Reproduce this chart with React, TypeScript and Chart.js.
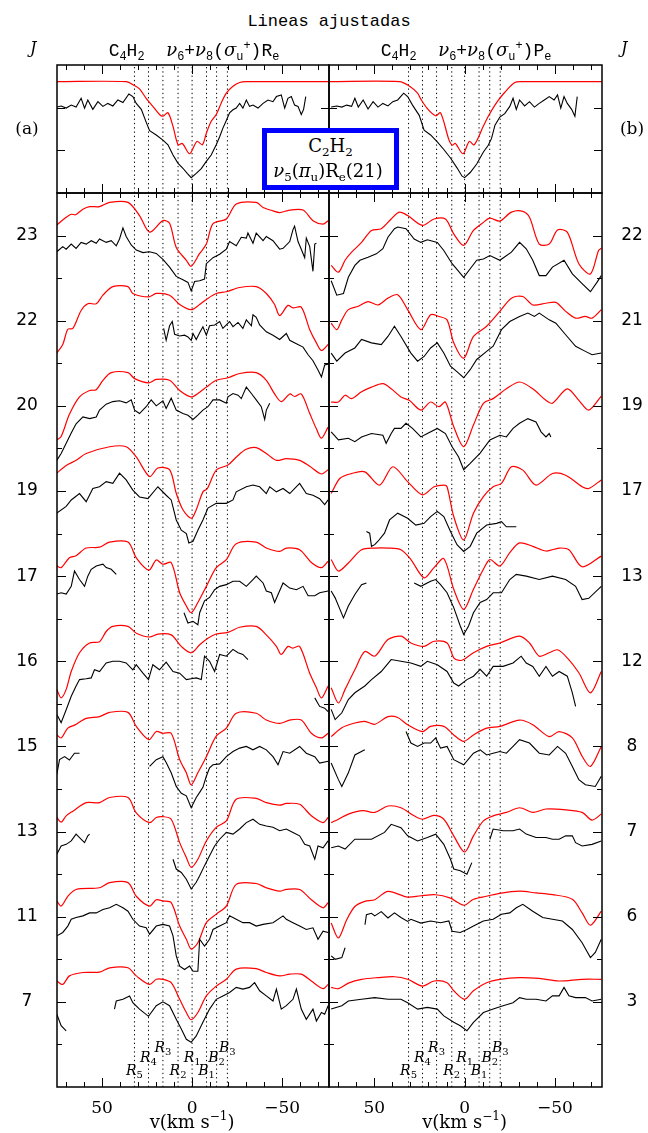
import React, { useEffect, useRef } from "react";
import { Chart, registerables } from "chart.js";

Chart.register(...registerables);

type Pt = [number, number | null];

// ---------- axis / annotation data ----------
const X_MIN = -76;
const X_MAX = 75;
const X_TICKS = [-70, -60, -50, -40, -30, -20, -10, 0, 10, 20, 30, 40, 50, 60, 70];
const X_LABELS = [50, 0, -50];
const BOTTOM_Y_TICKS = [5, 10, 15, 20, 25, 30, 35, 40, 45, 50, 55, 60, 65, 70, 75, 80, 85, 90, 95, 100];
const BOTTOM_Y_MAJOR = [10, 20, 30, 40, 50, 60, 70, 80, 90, 100];
const TOP_Y_TICKS = [5, 10];

const LINES_LEFT = [32, 24.2, 16.2, 7.8, 0, -8, -13.6, -19.6];
const LINES_RIGHT = [31, 23.3, 15.5, 7.1, 0, -8, -13.9, -19.7];
const LINE_NAMES = [["R", "5"], ["R", "4"], ["R", "3"], ["R", "2"], ["R", "1"], ["B", "1"], ["B", "2"], ["B", "3"]];
const NAME_LEVELS = [1.4, 2.95, 4.15, 1.4, 2.95, 1.4, 2.95, 4.15];

const LEFT_J = ["23", "22", "20", "19", "17", "16", "15", "13", "11", "7"];
const RIGHT_J = ["22", "21", "19", "17", "13", "12", "8", "7", "6", "3"];

// ---------- top panels (C2H2 nu5 Re(21)) ----------
const TOP_A_FIT: Pt[] = [[75, 13.05], [36.6, 13.05], [32, 12.6], [29.2, 12.2], [25.5, 11.1], [21.8, 10.15], [18.1, 9.2], [16.2, 9.0], [13.4, 9.4], [10.6, 7.8], [7.8, 5.65], [5.4, 5.8], [1.4, 4.6], [-2.7, 6.05], [-5.7, 5.65], [-7.9, 7.0], [-10.6, 8.4], [-13.4, 9.2], [-16.2, 10.55], [-19, 11.7], [-22.7, 12.5], [-26.4, 12.95], [-30, 13.05], [-76, 13.05]];
const TOP_A_OBS: Pt[] = [[75.1, 10.07], [72.7, 10.2], [69.9, 9.95], [67.1, 10.3], [64.4, 10.07], [61.6, 11.1], [59.7, 9.95], [57.9, 10.9], [55.1, 9.8], [52.3, 10.7], [49.5, 10.15], [46.8, 10.5], [44.0, 10.2], [41.2, 10.9], [38.4, 10.6], [35.1, 11.6], [32.9, 11.3], [31.0, 10.5], [28.2, 9.8], [25.5, 8.3], [23.6, 7.3], [19.9, 6.8], [16.2, 6.2], [13.4, 5.65], [10.6, 4.45], [7.9, 3.5], [5.1, 2.9], [2.7, 2.3], [0.5, 1.8], [-2.3, 2.3], [-5.1, 2.85], [-7.9, 3.7], [-10.6, 4.45], [-13.4, 5.65], [-15.3, 6.6], [-17.1, 7.6], [-19.0, 8.5], [-20.8, 9.4], [-22.7, 9.75], [-24.5, 9.95], [-26.4, 10.5], [-28.2, 9.95], [-30.1, 10.9], [-31.9, 10.15], [-33.8, 10.3], [-36.6, 9.95], [-39.4, 10.5], [-42.1, 10.9], [-44.9, 10.7], [-46.8, 11.3], [-49.5, 11.5], [-51.4, 9.95], [-53.2, 11.1], [-55.1, 11.3], [-56.9, 10.3], [-58.8, 10.15], [-60.6, 9.2], [-61.9, 9.8], [-63.1, 11.3]];
const TOP_B_FIT: Pt[] = [[75, 13.05], [36.1, 13.05], [30.6, 12.55], [26, 11.7], [24.2, 11.0], [20.6, 9.9], [16, 9.05], [13.3, 9.4], [8.7, 6.25], [6.9, 5.6], [5.1, 5.8], [0.9, 4.6], [-2.6, 6.05], [-5.3, 5.65], [-10.4, 7.85], [-13.1, 9.0], [-17.7, 10.6], [-22, 11.75], [-27.7, 12.95], [-32, 13.05], [-76, 13.05]];
const TOP_B_OBS: Pt[] = [[73.8, 10.07], [70.7, 10.2], [67.9, 10.07], [65.2, 10.3], [62.5, 10.15], [60.7, 11.1], [58.8, 10.07], [56.1, 10.9], [53.4, 9.85], [50.6, 10.7], [47.9, 10.07], [45.2, 10.5], [42.4, 10.2], [39.7, 10.7], [37.0, 10.9], [33.7, 11.7], [31.5, 11.3], [28.8, 10.3], [25.1, 9.1], [22.4, 7.35], [18.8, 6.8], [15.1, 6.0], [11.5, 5.1], [7.8, 4.1], [4.2, 2.95], [1.5, 2.0], [0, 1.8], [-3.1, 2.4], [-6.7, 3.4], [-10.4, 4.8], [-13.1, 5.6], [-14.9, 6.4], [-16.8, 7.95], [-19.5, 8.9], [-22.2, 9.3], [-25.0, 10.15], [-26.8, 11.1], [-28.6, 9.8], [-30.4, 10.9], [-33.2, 10.2], [-35.9, 10.7], [-38.6, 10.07], [-41.3, 10.5], [-44.1, 10.9], [-46.8, 11.3], [-49.5, 10.9], [-51.4, 11.5], [-53.2, 9.95], [-55.0, 11.3], [-56.8, 10.5], [-59.2, 9.8], [-61.0, 9.0], [-62.3, 11.3]];

// ---------- left column: C4H2 Re ----------
const L23_FIT: Pt[] = [[75.1, 1.25], [69.9, 2.15], [67.1, 2.5], [64.7, 2.45], [60.6, 3.1], [56.9, 3.4], [51.4, 3.4], [45.8, 3.9], [35.6, 3.9], [29.2, 2.35], [23.6, 0.4], [16.2, 1.75], [12.5, 1.45], [8.8, -1.4], [3.2, -2.9], [0.5, -3.6], [-4.2, -2.1], [-7.9, -1.0], [-11.6, 1.4], [-19.0, 1.95], [-24.5, 3.7], [-35.6, 3.9], [-39.4, 3.3], [-44.9, 2.9], [-48.6, 2.7], [-54.2, 3.0], [-61.6, 3.0], [-67.1, 1.75], [-72.7, 1.35], [-75.5, 1.75]];
const L23_OBS: Pt[] = [[75.1, -1.9], [71.8, -1.3], [69.9, -1.6], [67.1, -1.0], [64.4, -1.5], [61.6, -0.8], [58.8, -1.0], [56.0, -0.6], [53.2, -0.9], [51.4, -0.4], [47.7, -0.8], [44.9, -0.6], [42.1, -1.2], [40.3, -0.4], [38.4, 0.9], [36.6, -0.1], [33.8, -1.1], [31.0, -1.7], [27.3, -2.0], [23.6, -1.9], [19.9, -2.1], [16.2, -2.8], [12.5, -3.7], [8.8, -4.8], [5.1, -5.2], [2.3, -5.5], [0.5, -6.5], [-1.4, -5.4], [-4.2, -5.3], [-6.9, -5.1], [-7.9, -3.3], [-11.6, -2.6], [-15.3, -2.2], [-19.0, -1.6], [-20.8, -0.7], [-24.5, -1.2], [-27.3, -0.2], [-30.1, -0.3], [-31.0, 0.3], [-33.8, -0.9], [-35.6, 0.3], [-39.4, -0.6], [-41.2, -0.1], [-44.9, -0.6], [-48.6, -1.6], [-50.5, -1.5], [-54.2, -0.7], [-56.0, 0.7], [-56.9, 1.1], [-58.8, -0.7], [-60.6, -1.6], [-62.5, -2.6], [-63.4, -0.3], [-65.3, -1.3], [-67.1, -4.2], [-68.1, -1.0], [-69.0, -0.9]];
const L22_FIT: Pt[] = [[75.1, -3.8], [71.8, -2.8], [69.0, -1.0], [66.2, -0.9], [61.6, 1.2], [57.9, 2.0], [53.2, 2.0], [49.5, 3.0], [44.0, 4.0], [35.6, 4.0], [32.9, 3.2], [24.2, 2.8], [19.9, 3.2], [12.5, 3.0], [6.9, 1.9], [0.5, 1.3], [-4.2, 1.9], [-7.9, 2.5], [-13.4, 3.2], [-19.0, 3.4], [-26.4, 3.9], [-35.6, 4.0], [-41.2, 3.2], [-45.8, 1.9], [-48.6, 0.6], [-53.2, 1.8], [-56.0, 1.5], [-60.6, 1.6], [-65.3, -1.05], [-69.0, -2.6], [-71.8, -3.5], [-75.5, -2.8]];
const L22_OBS: Pt[] = [[15.8, -0.9], [14.4, -2.3], [12.5, -0.6], [11.0, -0.1], [9.7, -1.6], [6.9, -1.8], [4.2, -1.7], [2.3, -1.9], [0.5, -2.3], [-0.5, -1.5], [-2.3, -2.2], [-4.2, -1.4], [-6.0, -0.7], [-7.9, -1.7], [-9.7, -0.6], [-12.5, -0.5], [-15.3, -0.1], [-17.1, -0.9], [-20.8, -0.1], [-22.7, -0.7], [-25.5, -0.2], [-28.2, -0.9], [-30.1, 0.1], [-32.9, -0.6], [-33.8, 0.7], [-35.6, 0.4], [-37.5, -0.5], [-41.2, -1.3], [-44.9, -1.7], [-48.6, -2.2], [-52.3, -1.5], [-54.2, -2.3], [-57.9, -2.7], [-61.6, -3.1], [-64.4, -4.0], [-67.1, -4.7], [-69.9, -5.8], [-71.8, -6.6], [-73.6, -5.2], [-75.5, -5.1]];
const L20_FIT: Pt[] = [[75.1, -4.0], [72.7, -3.6], [68.1, -1.0], [62.5, 1.05], [56.9, 1.8], [53.2, 1.9], [49.5, 3.0], [44.9, 3.9], [35.6, 3.9], [31.9, 3.2], [24.2, 2.7], [19.9, 3.1], [12.5, 3.0], [6.9, 1.8], [0.5, 1.05], [-4.2, 1.6], [-7.9, 2.2], [-13.4, 3.0], [-19.9, 3.3], [-26.4, 3.8], [-35.6, 3.9], [-41.2, 3.0], [-45.8, 1.4], [-49.5, 0.5], [-54.2, 1.4], [-56.9, 1.1], [-60.6, 1.4], [-65.3, -0.9], [-69.0, -2.7], [-71.8, -3.8], [-75.5, -2.5]];
const L20_OBS: Pt[] = [[75.1, -6.4], [72.7, -5.6], [69.9, -4.4], [67.1, -3.2], [64.4, -2.1], [60.6, -1.3], [56.9, -1.5], [53.2, -1.3], [51.4, -0.5], [47.7, 0.2], [44.0, 0.5], [40.3, 0.6], [36.6, 0.35], [33.8, 0.7], [31.9, -0.5], [29.2, -0.9], [25.5, -0.1], [22.7, 0.7], [19.9, 0.0], [16.2, 0.6], [14.4, -0.3], [11.6, 0.9], [8.8, -0.5], [5.1, -0.9], [2.3, -1.1], [-0.5, -1.6], [-3.2, -1.1], [-6.0, -0.5], [-8.8, -0.1], [-11.6, 0.7], [-15.3, 0.7], [-19.0, 0.3], [-19.9, 1.05], [-22.7, 1.45], [-25.5, 1.25], [-27.3, 0.85], [-30.1, 2.2], [-32.9, 1.45], [-35.6, 0.7], [-38.4, -0.1], [-40.3, -1.6], [-41.2, -0.5], [-43.1, 0.3]];
const L19_FIT: Pt[] = [[75.1, 2.1], [69.9, 3.0], [64.4, 3.6], [58.8, 4.4], [45.8, 5.2], [36.6, 5.2], [31.0, 4.0], [23.6, 1.7], [19.0, 2.7], [12.5, 2.5], [8.8, -0.27], [5.1, -2.2], [0.45, -3.2], [-2.3, -2.2], [-6.0, -0.1], [-8.5, 0.3], [-13.4, 2.46], [-19.9, 3.05], [-24.6, 4.0], [-30.0, 4.9], [-35.6, 5.1], [-41.2, 4.4], [-46.8, 3.6], [-52.3, 3.8], [-59.7, 3.6], [-65.3, 2.9], [-71.8, 2.0], [-75.5, 2.5]];
const L19_OBS: Pt[] = [[75.1, -2.6], [69.9, -1.8], [67.1, -1.05], [62.5, -0.3], [58.8, -1.25], [55.1, 0.3], [51.4, 0.5], [47.7, 1.1], [44.0, 0.9], [40.3, 2.1], [36.6, 1.3], [32.9, 0.1], [29.2, -0.7], [24.5, -0.9], [19.0, 0.5], [14.4, -0.5], [11.6, -1.05], [8.8, -3.4], [6.0, -4.6], [3.2, -5.0], [1.8, -6.1], [-0.5, -5.9], [-3.2, -4.6], [-6.0, -3.4], [-8.8, -2.0], [-13.4, -1.45], [-19.0, -1.45], [-22.7, -1.05], [-24.5, -0.1], [-30.1, 0.5], [-33.8, 0.7], [-37.5, 0.5], [-41.2, -0.3], [-43.1, 0.5], [-46.8, -0.1], [-50.5, 0.3], [-54.2, -0.3], [-59.7, 0.9], [-63.4, -0.3], [-67.1, -0.5], [-70.8, -0.9], [-73.6, -1.6], [-75.5, -1.05]];
const L17_FIT: Pt[] = [[75.1, 1.2], [72.7, 1.0], [68.1, 2.15], [64.4, 2.4], [58.8, 3.3], [51.4, 3.4], [45.8, 4.0], [35.6, 4.0], [31.0, 2.15], [24.0, 0.7], [19.9, 1.9], [16.2, 1.4], [11.6, 1.6], [6.9, -1.95], [3.2, -3.5], [0.5, -4.3], [-3.2, -3.1], [-7.9, -1.2], [-13.4, 1.0], [-19.0, 1.95], [-24.5, 3.8], [-35.6, 4.0], [-41.2, 3.3], [-48.6, 2.9], [-52.3, 3.3], [-59.7, 3.1], [-66.2, 1.6], [-71.8, 1.0], [-75.5, 1.75]];
const L17_OBS: Pt[] = [[75.1, -2.1], [72.7, -1.95], [69.9, -2.1], [67.1, -1.2], [65.3, 0.6], [62.5, -0.4], [59.7, -1.2], [57.9, 0.0], [56.0, 0.8], [53.2, 1.2], [49.5, 1.4], [47.7, 1.0], [44.9, 0.8], [42.1, 0.2], [20, null], [4.5, -4.3], [2.3, -5.5], [-0.5, -5.3], [-3.2, -5.7], [-4.2, -4.3], [-6.9, -2.9], [-9.7, -2.5], [-12.5, -1.6], [-15.3, -1.2], [-19.0, -1.0], [-22.7, -0.6], [-26.4, -0.6], [-30.1, -1.2], [-33.8, -0.4], [-35.6, 0.0], [-39.4, -0.8], [-41.2, -1.75], [-44.0, -1.95], [-45.8, -3.1], [-47.7, -2.15], [-50.5, -0.8], [-54.2, -1.4], [-57.9, -1.6], [-61.6, -1.2], [-64.4, -2.3], [-68.1, -2.3], [-70.8, -1.95], [-75.5, -1.75]];
const L16_FIT: Pt[] = [[75.1, -3.3], [72.7, -4.3], [69.9, -3.3], [67.1, -1.2], [62.5, 1.0], [56.9, 2.15], [51.4, 2.3], [47.7, 3.5], [44.0, 4.1], [35.6, 4.1], [31.0, 3.3], [23.6, 2.85], [19.0, 3.2], [11.6, 3.1], [6.0, 1.75], [0.5, 1.0], [-4.2, 1.95], [-8.8, 2.7], [-13.4, 3.2], [-19.9, 3.4], [-26.4, 4.0], [-35.6, 4.1], [-41.2, 3.1], [-46.8, 1.75], [-49.5, 0.8], [-53.2, 1.75], [-56.0, 1.55], [-59.7, 1.75], [-65.3, -1.4], [-69.0, -3.1], [-71.8, -4.3], [-75.5, -2.9]];
const L16_OBS: Pt[] = [[75.1, -6.25], [72.7, -7.2], [69.9, -5.7], [67.1, -4.1], [64.4, -2.9], [62.5, -2.15], [58.8, -2.05], [56.0, -1.95], [54.2, -1.0], [51.4, -1.2], [47.7, -0.2], [44.0, 0.0], [40.3, 0.0], [36.6, -0.2], [32.9, -1.0], [31.0, -0.4], [27.3, -1.4], [24.2, -2.15], [21.8, -0.4], [18.1, -1.0], [14.4, -0.1], [10.6, -1.2], [6.9, -1.4], [3.2, -2.15], [0.5, -2.05], [-2.3, -1.95], [-5.1, -2.15], [-6.9, 0.6], [-9.7, 0.0], [-12.5, -1.2], [-15.3, 0.8], [-19.0, 0.6], [-22.7, 1.4], [-25.5, 1.0], [-28.2, 0.8], [-31.0, 0.2], [-50, null], [-68.1, -4.3], [-70.8, -5.3], [-73.6, -5.5], [-75.5, -5.9]];
const L15_FIT: Pt[] = [[75.1, 1.35], [72.7, 1.0], [69.0, 2.15], [65.3, 2.5], [58.8, 3.3], [51.4, 3.5], [45.8, 4.0], [35.6, 4.0], [31.0, 2.35], [24.0, 0.8], [19.9, 1.75], [16.2, 1.55], [11.6, 1.55], [6.9, -1.55], [3.2, -3.1], [0.5, -4.5], [-3.2, -3.1], [-7.9, -1.2], [-13.4, 1.2], [-19.0, 2.15], [-24.5, 3.9], [-35.6, 3.9], [-41.2, 3.1], [-48.6, 2.7], [-54.2, 3.1], [-60.6, 3.1], [-66.2, 1.55], [-71.8, 1.0], [-75.5, 1.55]];
const L15_OBS: Pt[] = [[75.1, -3.3], [73.6, -1.55], [70.8, -1.2], [68.1, -1.6], [65.3, -0.8], [62.5, -0.8], [40, null], [23.6, -2.35], [19.9, -1.55], [16.2, -1.2], [14.4, -1.9], [11.6, -3.1], [8.8, -4.7], [6.0, -5.5], [3.2, -5.8], [0.5, -7.2], [-2.3, -6.0], [-4.2, -5.4], [-6.0, -4.8], [-7.9, -3.5], [-9.7, -2.5], [-11.6, -2.15], [-15.3, -2.05], [-19.0, -1.2], [-22.7, -0.6], [-26.4, -0.2], [-30.1, 0.0], [-33.8, -0.4], [-37.5, 0.0], [-41.2, -0.4], [-44.9, -1.2], [-47.7, -2.15], [-50.5, -0.6], [-54.2, -0.8], [-59.7, 0.0], [-63.4, -0.8], [-68.1, -1.2], [-70.8, -1.95], [-75.5, -1.75]];
const L13_FIT: Pt[] = [[75.1, 1.65], [72.7, 1.1], [69.9, 1.85], [66.2, 2.4], [58.8, 3.4], [51.4, 3.4], [45.8, 4.0], [35.6, 4.0], [31.0, 2.2], [23.6, 1.05], [19.9, 1.65], [16.2, 1.75], [11.6, 1.45], [6.9, -1.3], [3.2, -3.05], [0.5, -4.2], [-3.2, -3.25], [-7.9, -1.1], [-13.4, 0.5], [-19.0, 1.25], [-24.5, 3.8], [-35.6, 3.9], [-41.2, 3.4], [-48.6, 3.1], [-52.3, 3.3], [-59.7, 3.2], [-66.2, 1.85], [-72.7, 1.05], [-75.5, 1.65]];
const L13_OBS: Pt[] = [[75.1, -2.65], [72.7, -1.7], [69.9, -1.5], [67.1, -1.1], [64.4, -0.3], [62.5, -0.7], [59.7, -1.3], [57.9, -0.5], [56.9, -0.3], [30, null], [10.6, -3.25], [8.8, -4.4], [6.0, -4.8], [3.2, -5.6], [0.5, -6.75], [-2.3, -5.95], [-4.2, -5.2], [-6.9, -4.0], [-9.7, -2.85], [-12.5, -1.7], [-15.3, -0.9], [-19.0, -0.1], [-22.7, -0.3], [-26.4, 0.3], [-30.1, 1.05], [-33.8, 1.45], [-37.5, 0.85], [-41.2, 0.65], [-44.9, 0.5], [-48.6, 0.1], [-52.3, 0.3], [-56.0, -0.1], [-59.7, -0.5], [-62.5, -1.5], [-65.3, -1.7], [-68.1, -3.25], [-69.9, -1.7], [-72.7, -1.9], [-75.5, -1.1]];
const L11_FIT: Pt[] = [[75.1, 1.85], [72.7, 1.25], [69.0, 2.4], [64.4, 3.2], [51.4, 3.4], [45.8, 4.0], [35.6, 4.0], [31.0, 2.4], [23.6, 1.25], [19.9, 2.0], [16.2, 1.85], [11.6, 1.65], [6.9, -1.1], [3.2, -2.65], [0.5, -3.8], [-3.2, -3.05], [-7.9, -0.7], [-13.4, 0.3], [-19.0, 1.25], [-24.5, 3.8], [-35.6, 3.9], [-41.2, 3.4], [-48.6, 3.0], [-52.3, 3.2], [-59.7, 3.2], [-66.2, 2.0], [-72.7, 1.05], [-75.5, 1.65]];
const L11_OBS: Pt[] = [[75.1, -2.25], [71.8, -1.85], [69.0, -1.1], [67.1, -0.3], [64.4, -0.1], [60.6, 0.1], [56.9, 0.45], [53.2, 0.45], [49.5, 0.85], [45.8, 1.05], [42.1, 1.45], [38.4, 1.05], [35.6, 0.65], [32.9, -0.3], [29.2, -1.1], [25.5, -1.3], [23.6, -2.05], [19.9, -1.1], [16.2, -0.9], [12.5, -1.1], [10.6, -2.25], [8.8, -4.6], [6.9, -5.8], [4.2, -6.2], [1.4, -5.8], [-0.5, -6.4], [-3.2, -6.4], [-4.2, -2.65], [-6.9, -3.45], [-9.7, -2.65], [-11.6, -1.5], [-15.3, -1.1], [-19.0, -0.7], [-20.8, 0.1], [-24.5, -0.3], [-28.2, -0.7], [-31.9, -0.7], [-35.6, -1.1], [-39.4, -0.9], [-44.9, -0.7], [-50.5, 0.1], [-52.3, -0.3], [-56.0, -0.7], [-59.7, -1.1], [-63.4, -1.5], [-67.1, -1.3], [-69.9, -2.65], [-72.7, -1.7], [-75.5, -1.85]];
const L7_FIT: Pt[] = [[75.1, 2.45], [71.8, 2.05], [68.1, 3.05], [60.6, 3.45], [51.4, 3.5], [45.8, 4.0], [35.6, 4.0], [31.0, 3.05], [23.6, 2.05], [19.9, 2.65], [16.2, 2.65], [11.6, 2.25], [6.9, 0.3], [3.2, -1.25], [0.5, -2.1], [-3.2, -1.25], [-7.9, 0.7], [-13.4, 1.85], [-19.0, 2.65], [-24.5, 3.85], [-35.6, 3.9], [-41.2, 3.45], [-48.6, 3.05], [-54.2, 3.25], [-60.6, 3.25], [-66.2, 2.45], [-72.7, 1.55], [-75.5, 2.05]];
const L7_OBS: Pt[] = [[75.1, -1.45], [72.7, -2.8], [69.9, -3.4], [55, null], [43.1, -0.85], [42.1, 0.1], [38.4, 0.3], [34.7, 0.7], [32.9, -0.1], [29.2, -0.85], [24.2, -1.7], [19.9, -0.45], [16.2, 0.0], [12.5, -0.45], [8.8, -2.05], [6.0, -3.2], [3.2, -4.4], [0.5, -4.75], [-2.3, -4.0], [-6.0, -2.4], [-9.7, -0.85], [-13.4, 0.3], [-17.1, 0.7], [-20.8, 1.1], [-24.5, 1.7], [-28.2, 1.5], [-31.9, 1.7], [-34.7, 2.25], [-37.5, 1.3], [-41.2, 0.7], [-44.9, 0.1], [-46.8, 1.5], [-49.5, -0.85], [-52.3, -0.45], [-56.0, 0.3], [-57.9, 1.5], [-60.6, -0.85], [-63.4, -2.05], [-67.1, -0.85], [-69.0, -2.25], [-71.8, -1.25], [-73.6, -1.45], [-75.5, -0.45]];

// ---------- right column: C4H2 Pe ----------
const R22_FIT: Pt[] = [[73.8, -3.5], [69.8, -4.3], [66.1, -2.9], [62.5, -1.95], [57.0, -0.8], [51.5, 0.6], [46.1, 0.8], [40.6, 1.95], [36.1, 2.75], [31.5, 2.35], [23.3, 1.2], [16.9, 1.95], [10.6, 1.95], [6.0, 0.2], [0.5, -1.15], [-4.9, 0.6], [-10.4, 1.55], [-14.0, 2.05], [-19.5, 1.7], [-25.9, 2.75], [-32.2, 2.85], [-35.9, 2.15], [-41.3, -1.0], [-46.8, -1.0], [-51.4, 0.65], [-56.8, 0.4], [-63.2, -3.3], [-69.6, -4.5], [-74.1, -1.75], [-75.6, -1.5]];
const R22_OBS: Pt[] = [[73.8, -5.3], [70.7, -7.0], [67.0, -6.8], [64.3, -4.9], [60.7, -3.5], [57.9, -2.9], [53.4, -2.55], [48.8, -2.15], [45.2, -1.55], [42.4, -0.2], [38.8, 0.8], [37.0, 1.0], [32.4, 0.8], [27.9, -0.4], [24.2, -0.8], [20.6, -0.5], [15.1, -0.8], [11.5, -1.75], [6.9, -3.3], [0.5, -4.9], [-3.1, -3.9], [-6.7, -2.9], [-10.4, -2.75], [-14.0, -2.35], [-19.5, -2.9], [-25.9, -1.95], [-30.4, -0.8], [-34.1, -1.55], [-37.7, -2.9], [-41.3, -4.7], [-45.0, -4.7], [-48.6, -3.7], [-55.0, -2.9], [-59.6, -4.5], [-65.0, -5.65], [-69.6, -6.6], [-73.2, -5.5], [-75.6, -4.7]];
const R21_FIT: Pt[] = [[73.8, -0.3], [70.7, -1.05], [67.9, 0.1], [64.3, 1.3], [58.8, 1.7], [53.4, 2.25], [47.9, 1.85], [42.4, 2.65], [37.0, 3.05], [31.5, 1.3], [24.2, -1.05], [18.8, 0.7], [14.2, 0.5], [9.7, 0.1], [6.0, -2.6], [0.5, -4.4], [-4.9, -1.85], [-12.2, -0.65], [-19.5, 1.1], [-25.9, 2.65], [-32.2, 2.85], [-37.7, 1.85], [-45.0, 2.05], [-50.5, 2.15], [-55.9, 1.1], [-61.4, 0.3], [-66.8, 0.5], [-70.5, 0.3], [-75.6, 1.3]];
const R21_OBS: Pt[] = [[73.8, -3.8], [70.7, -4.75], [66.1, -3.8], [60.7, -3.2], [57.0, -2.2], [51.5, -2.6], [46.1, -2.8], [42.4, -1.85], [38.8, -0.65], [35.2, -1.85], [29.7, -3.8], [26.0, -4.75], [22.4, -4.2], [18.8, -3.2], [15.1, -2.6], [11.5, -3.8], [7.8, -5.35], [3.3, -6.15], [0.5, -6.7], [-3.1, -5.75], [-6.7, -4.55], [-12.2, -3.6], [-15.8, -3.0], [-20.4, -1.05], [-25.0, -0.1], [-30.4, 0.5], [-35.0, 0.9], [-38.6, 0.5], [-41.3, 0.9], [-46.8, 0.1], [-50.5, -0.3], [-55.9, -1.65], [-61.4, -3.0], [-66.8, -3.6], [-70.5, -4.0], [-75.6, -3.8]];
const R19_FIT: Pt[] = [[73.8, 0.45], [69.8, 0.45], [66.1, 1.25], [62.5, 0.85], [57.0, 1.65], [51.5, 2.2], [45.2, 2.6], [40.6, 2.0], [35.2, 1.05], [30.6, 0.65], [24.2, -0.5], [18.8, 0.45], [14.2, -0.1], [10.6, 0.45], [6.0, -2.45], [0.5, -4.8], [-4.9, -2.25], [-10.4, 0.3], [-15.8, 0.85], [-23.1, 2.0], [-30.4, 2.8], [-37.7, 2.0], [-45.0, 0.65], [-48.6, 0.3], [-56.8, 2.0], [-63.2, 0.65], [-68.7, -0.5], [-75.6, 1.15]];
const R19_OBS: Pt[] = [[73.8, -3.05], [69.8, -4.0], [64.3, -3.8], [60.7, -4.2], [57.0, -3.65], [51.5, -3.25], [45.2, -3.45], [43.4, -4.4], [40.6, -3.25], [38.8, -2.65], [35.2, -2.65], [32.4, -2.05], [28.8, -2.65], [24.2, -3.65], [20.6, -3.25], [15.1, -2.65], [10.6, -3.25], [6.9, -4.8], [3.3, -6.0], [0.5, -7.5], [-3.1, -6.75], [-8.6, -5.55], [-14.0, -4.0], [-19.5, -3.45], [-23.1, -3.65], [-26.8, -2.65], [-30.4, -2.05], [-35.0, -1.5], [-39.5, -1.9], [-42.3, -3.05], [-45.0, -3.65], [-46.8, -3.25], [-47.7, -3.65]];
const R17_FIT: Pt[] = [[73.8, -0.3], [68.9, 1.5], [62.5, 2.05], [55.2, 2.25], [47.0, 0.7], [39.7, 2.85], [31.5, 1.1], [23.3, -0.45], [16.9, 0.5], [11.5, 0.7], [9.7, 0.5], [6.0, -3.0], [0.5, -5.75], [-4.9, -2.6], [-10.4, -0.65], [-15.8, 0.5], [-20.4, 0.9], [-25.9, 2.85], [-32.2, 2.45], [-39.5, 0.7], [-48.6, 2.05], [-55.9, 1.85], [-65.0, 0.5], [-68.7, 0.3], [-75.6, 1.3]];
const R17_OBS: Pt[] = [[54.3, -4.75], [52.5, -4.95], [51.5, -6.5], [49.7, -6.3], [47.9, -5.9], [44.3, -4.95], [41.5, -3.4], [37.0, -2.6], [31.5, -3.2], [27.0, -4.0], [22.4, -3.8], [18.8, -3.0], [15.1, -2.4], [11.5, -3.0], [7.8, -4.75], [4.2, -6.3], [0.5, -7.1], [-3.1, -6.5], [-6.7, -4.95], [-12.2, -4.0], [-17.7, -3.8], [-20.4, -3.6], [-23.1, -4.2], [-28.6, -4.2]];
const R13_FIT: Pt[] = [[73.8, 1.95], [69.8, 0.6], [64.3, 1.55], [57.0, 3.1], [49.7, 3.3], [42.4, 3.3], [35.2, 3.1], [29.7, 1.95], [22.4, -0.2], [16.9, 1.0], [11.5, 2.05], [6.0, -1.55], [0.5, -3.9], [-4.9, -1.55], [-10.4, 0.8], [-14.0, 1.95], [-19.5, 1.2], [-25.0, 2.75], [-30.4, 3.9], [-37.7, 3.5], [-45.0, 2.95], [-52.3, 3.3], [-57.7, 3.1], [-65.0, 1.1], [-75.6, 2.35]];
const R13_OBS: Pt[] = [[73.8, -1.75], [71.6, -2.55], [67.0, -4.9], [64.3, -3.5], [60.7, -2.15], [57.0, -1.0], [54.3, -0.8], [40, null], [27.9, -0.8], [24.2, -1.2], [18.8, -0.6], [16.0, -0.4], [13.3, -1.0], [9.7, -1.95], [6.0, -3.7], [2.4, -5.85], [0.5, -6.85], [-2.2, -5.85], [-4.9, -4.3], [-8.6, -3.1], [-12.2, -2.75], [-15.8, -1.95], [-20.4, -1.95], [-25.0, -0.4], [-28.6, 0.2], [-34.1, 0.0], [-41.3, -0.4], [-48.6, 0.0], [-55.9, -0.4], [-61.4, -1.2], [-65.0, -2.75], [-68.7, -2.6], [-75.6, -1.2]];
const R12_FIT: Pt[] = [[73.8, -3.1], [69.8, -4.9], [66.1, -3.3], [60.7, -1.0], [55.2, 1.15], [49.7, 0.6], [42.4, 2.55], [35.2, 2.95], [29.7, 2.15], [22.4, 1.75], [16.9, 2.35], [9.7, 2.15], [6.0, 0.4], [3.0, 0.1], [0.5, 0.2], [-4.9, 1.0], [-12.2, 1.75], [-19.5, 2.15], [-30.4, 2.95], [-35.9, 2.15], [-41.3, 0.6], [-46.8, 1.0], [-51.4, 1.35], [-56.8, 0.4], [-63.2, -1.35], [-69.6, -3.7], [-75.6, -1.2]];
const R12_OBS: Pt[] = [[73.8, -5.65], [71.6, -6.85], [67.9, -6.05], [64.3, -4.5], [60.7, -3.7], [55.2, -2.9], [51.5, -2.15], [46.1, -1.2], [40.6, 0.2], [35.2, 0.0], [29.7, -0.2], [24.2, -0.6], [20.6, 0.0], [15.1, -0.4], [9.7, -1.2], [6.0, -2.55], [3.3, -2.9], [-1.3, -2.15], [-4.9, -1.75], [-8.6, -0.95], [-12.2, -1.75], [-15.8, -0.6], [-21.3, -0.6], [-26.8, -0.2], [-31.3, 0.6], [-34.1, -0.2], [-37.7, -0.6], [-41.3, -1.75], [-45.0, -0.6], [-48.6, -1.75], [-52.3, -1.2], [-56.8, -1.75], [-59.6, -3.7], [-61.4, -5.3]];
const R8_FIT: Pt[] = [[73.8, 1.15], [67.9, 2.2], [60.7, 2.75], [55.2, 2.95], [49.7, 2.6], [42.4, 3.5], [37.0, 3.4], [31.5, 2.55], [23.3, 1.75], [18.8, 2.35], [11.5, 2.35], [6.0, 1.35], [0.5, 0.6], [-4.9, 1.35], [-12.2, 2.15], [-19.5, 2.35], [-30.4, 3.1], [-37.7, 2.55], [-46.8, 1.15], [-52.3, 1.75], [-59.6, 1.0], [-65.0, -1.15], [-69.6, -2.35], [-75.6, 0.0]];
const R8_OBS: Pt[] = [[73.8, -1.95], [69.8, -3.9], [67.9, -4.7], [64.3, -3.1], [60.7, -1.0], [55.2, -0.4], [45, null], [32.4, 1.75], [29.7, 0.4], [26.0, 0.0], [22.4, 0.4], [18.8, 0.4], [16.0, 1.0], [13.3, -0.2], [9.7, 0.0], [6.0, -1.55], [0.5, -2.15], [-4.9, -0.8], [-8.6, -0.4], [-12.2, -1.0], [-15.8, -0.8], [-19.5, -0.6], [-23.1, -0.8], [-26.8, 0.0], [-30.4, 0.8], [-35.9, 0.4], [-41.3, -0.8], [-46.8, -1.0], [-51.4, 0.0], [-55.9, -0.8], [-59.6, -2.35], [-63.2, -3.9], [-66.8, -4.5], [-72.3, -4.7], [-75.6, -3.5]];
const R7_FIT: Pt[] = [[73.8, 1.05], [69.8, 1.45], [64.3, 2.05], [56.1, 2.45], [49.7, 2.25], [42.4, 3.0], [35.2, 2.8], [27.9, 1.85], [23.3, 1.45], [16.9, 1.9], [11.5, 1.45], [6.0, -0.5], [0, -2.4], [-4.9, -0.5], [-10.4, 1.25], [-15.8, 1.85], [-23.1, 2.25], [-30.4, 2.8], [-37.7, 2.25], [-45.0, 2.65], [-55.9, 2.55], [-65.0, 2.25], [-70.5, 1.35], [-75.6, 2.05]];
const R7_OBS: Pt[] = [[73.8, -1.9], [69.8, -1.7], [66.1, -2.05], [60.7, -0.9], [51.5, -0.9], [44.3, -0.1], [40.6, 0.85], [35.2, 0.45], [31.5, -0.5], [26.0, -1.1], [20.6, -0.7], [16.0, -0.3], [11.5, -1.5], [7.8, -3.25], [6.0, -4.4], [2.4, -4.6], [-1.3, -5.0], [-4.0, -3.65], [-9, null], [-14.0, -0.9], [-15.8, 0.3], [-21.3, 0.1], [-26.8, 0.1], [-30.4, 0.3], [-34.1, -0.3], [-39.5, -0.7], [-45.0, -0.7], [-48.6, -0.9], [-52.3, -0.9], [-55.9, -0.5], [-59.6, -0.5], [-61.4, -1.3], [-65.0, -1.7], [-70.5, -1.5], [-75.6, -1.1]];
const R6_FIT: Pt[] = [[73.8, -0.74], [69.8, -2.5], [65.2, -0.35], [60.7, 1.2], [55.2, 1.8], [49.7, 2.0], [42.4, 2.97], [31.5, 2.3], [24.2, 2.46], [16.0, 2.58], [7.8, 2.19], [4.0, 1.7], [0, 1.35], [-4.9, 2.05], [-12.2, 2.4], [-19.5, 2.75], [-30.4, 3.0], [-39.5, 2.8], [-48.6, 2.6], [-59.6, 2.05], [-65.0, 0.45], [-69.6, -1.0], [-75.6, 0.65]];
const R6_OBS: Pt[] = [[73.8, -4.6], [71.6, -5.0], [67.9, -4.8], [66.1, -3.65], [62, null], [55.1, -0.94], [54.3, 0.23], [51.5, 0.4], [49.7, 0.1], [46.1, 0.6], [42.4, -0.15], [38.8, 0.45], [35.2, -0.1], [31.5, -0.55], [29.7, -0.3], [24.2, -0.75], [18.8, -0.5], [13.3, -0.7], [8.7, -0.5], [6.9, -1.7], [2.4, -1.85], [-1.3, -1.5], [-4.9, -1.1], [-10.4, -0.5], [-15.8, -0.3], [-20.4, 0.3], [-25.0, 0.45], [-28.6, 1.05], [-32.2, 1.45], [-37.7, 0.65], [-43.2, -0.1], [-48.6, -0.3], [-54.1, -0.5], [-59.6, -1.5], [-65.0, -3.05], [-69.6, -4.8], [-72.3, -4.2], [-75.6, -2.65]];
const R3_FIT: Pt[] = [[73.8, 1.7], [69.8, 1.55], [64.3, 2.2], [57.0, 2.65], [47.9, 2.85], [38.8, 2.95], [31.5, 2.65], [23.3, 1.85], [16.9, 2.45], [9.7, 2.25], [6.0, 1.3], [0, 0.3], [-4.9, 1.3], [-12.2, 2.25], [-19.5, 2.65], [-30.4, 2.85], [-41.3, 2.75], [-52.3, 2.45], [-65.0, 2.65], [-75.6, 2.65]];
const R3_OBS: Pt[] = [[73.8, -0.85], [67.9, -0.45], [64.3, 0.1], [57.0, 0.3], [49.7, 0.5], [42.4, 0.3], [35.2, 0.3], [31.5, -0.1], [26.0, -0.85], [20.6, -0.65], [15.1, -0.85], [11.5, -1.65], [6.0, -2.4], [2.4, -2.8], [-1.3, -3.4], [-4.9, -2.4], [-10.4, -1.25], [-15.8, -0.85], [-21.3, -0.45], [-26.8, -0.1], [-30.4, 0.5], [-34.1, 0.3], [-39.5, 0.3], [-45.0, 0.1], [-48.6, 0.7], [-52.3, 0.7], [-55.0, 1.7], [-57.7, 0.7], [-61.4, 0.5], [-66.8, 0.5], [-70.5, 0.1], [-75.6, 0.3]];

const LEFT_FITS = [L23_FIT, L22_FIT, L20_FIT, L19_FIT, L17_FIT, L16_FIT, L15_FIT, L13_FIT, L11_FIT, L7_FIT];
const LEFT_OBS = [L23_OBS, L22_OBS, L20_OBS, L19_OBS, L17_OBS, L16_OBS, L15_OBS, L13_OBS, L11_OBS, L7_OBS];
const RIGHT_FITS = [R22_FIT, R21_FIT, R19_FIT, R17_FIT, R13_FIT, R12_FIT, R8_FIT, R7_FIT, R6_FIT, R3_FIT];
const RIGHT_OBS = [R22_OBS, R21_OBS, R19_OBS, R17_OBS, R13_OBS, R12_OBS, R8_OBS, R7_OBS, R6_OBS, R3_OBS];

// ---------- rendering ----------
const RED = "rgb(255,0,0)";

interface Series { base: number; fit: Pt[]; obs: Pt[] }
interface PanelSpec {
  key: string;
  left: number; top: number; width: number; height: number;
  padding: { left: number; right: number; top: number; bottom: number };
  yMax: number;
  yTicks: number[];
  yMajor: number[];
  yTickLen: number;
  series: Series[];
  lines: number[];
  side: "left" | "right";
  jLabels: { text: string; value: number }[];
  jFont: string;
  bottomAxis: boolean;
}

function buildDatasets(spec: PanelSpec) {
  const ds: any[] = [];
  for (const v of spec.lines) {
    ds.push({
      data: [{ x: v, y: 0 }, { x: v, y: spec.yMax }],
      borderColor: "#000", borderWidth: 1, borderDash: [1.3, 3],
      pointRadius: 0, tension: 0, order: 5,
    });
  }
  for (const s of spec.series) {
    ds.push({
      data: s.fit.map(([x, y]) => ({ x, y: s.base + (y as number) })),
      borderColor: RED, borderWidth: 1.2, pointRadius: 0,
      tension: 0.3, order: 1,
    });
    ds.push({
      data: s.obs.map(([x, y]) => ({ x, y: y === null ? null : s.base + y })),
      borderColor: "#000", borderWidth: 1.1, pointRadius: 0, tension: 0,
      spanGaps: false, order: 0,
    });
  }
  return ds;
}

const framePlugin = {
  id: "frame",
  afterDatasetsDraw(chart: any) {
    const o = chart.options.plugins.frame;
    const { ctx, chartArea: a } = chart;
    const xs = chart.scales.x;
    const ys = chart.scales.y;
    ctx.save();
    ctx.strokeStyle = "#000";
    ctx.lineWidth = 1;
    ctx.beginPath();
    for (const t of X_TICKS) {
      const px = Math.round(xs.getPixelForValue(t)) + 0.5;
      const len = X_LABELS.includes(t) ? 9 : 5;
      ctx.moveTo(px, a.bottom); ctx.lineTo(px, a.bottom - len);
      ctx.moveTo(px, a.top); ctx.lineTo(px, a.top + len);
    }
    for (const t of o.yTicks) {
      const py = Math.round(ys.getPixelForValue(t)) + 0.5;
      const len = o.yMajor.includes(t) ? o.yTickLen : 5;
      ctx.moveTo(a.left, py); ctx.lineTo(a.left + len, py);
      ctx.moveTo(a.right, py); ctx.lineTo(a.right - len, py);
    }
    ctx.stroke();
    ctx.lineWidth = 1.5;
    ctx.strokeRect(a.left, a.top, a.right - a.left, a.bottom - a.top);

    ctx.fillStyle = "#000";
    ctx.font = o.jFont;
    ctx.textAlign = "center";
    ctx.textBaseline = "middle";
    for (const j of o.jLabels) {
      const px = o.side === "left" ? a.left - 30 : a.right + 30;
      ctx.fillText(j.text, px, ys.getPixelForValue(j.value));
    }

    if (o.bottomAxis) {
      ctx.font = "17px 'DejaVu Serif'";
      for (const t of X_LABELS) {
        ctx.fillText(t < 0 ? "\u2212" + Math.abs(t) : String(t), xs.getPixelForValue(t), a.bottom + 22);
      }
      const cx = xs.getPixelForValue(0);
      const base = a.bottom + 41;
      ctx.textAlign = "left";
      ctx.textBaseline = "alphabetic";
      const f1 = "18px 'DejaVu Serif'";
      const f2 = "12px 'DejaVu Serif'";
      ctx.font = f1;
      const w1 = ctx.measureText("v(km s").width;
      const w3 = ctx.measureText(")").width;
      ctx.font = f2;
      const w2 = ctx.measureText("\u22121").width;
      const x0 = cx - (w1 + w2 + w3) / 2;
      ctx.font = f1; ctx.fillText("v(km s", x0, base);
      ctx.font = f2; ctx.fillText("\u22121", x0 + w1, base - 8);
      ctx.font = f1; ctx.fillText(")", x0 + w1 + w2, base);

      for (let i = 0; i < o.lines.length; i++) {
        const px = xs.getPixelForValue(o.lines[i]);
        const py = ys.getPixelForValue(NAME_LEVELS[i]);
        const [m, s] = LINE_NAMES[i];
        const fm = "italic 14px 'DejaVu Serif'";
        const fs = "10px 'DejaVu Serif'";
        ctx.font = fm; const wm = ctx.measureText(m).width;
        ctx.font = fs; const wsub = ctx.measureText(s).width;
        const xx = px - (wm + wsub) / 2;
        ctx.font = fm; ctx.fillText(m, xx, py);
        ctx.font = fs; ctx.fillText(s, xx + wm, py + 3);
      }
    }
    ctx.restore();
  },
};

function PanelChart({ spec }: { spec: PanelSpec }) {
  const ref = useRef<HTMLCanvasElement | null>(null);
  useEffect(() => {
    if (!ref.current) return;
    const chart = new Chart(ref.current, {
      type: "line",
      data: { datasets: buildDatasets(spec) },
      options: {
        responsive: false,
        animation: false,
        devicePixelRatio: 1,
        events: [],
        layout: { padding: spec.padding },
        scales: {
          x: { type: "linear", reverse: true, min: X_MIN, max: X_MAX, display: false },
          y: { type: "linear", min: 0, max: spec.yMax, display: false },
        },
        plugins: {
          legend: { display: false },
          tooltip: { enabled: false },
          frame: {
            yTicks: spec.yTicks, yMajor: spec.yMajor, yTickLen: spec.yTickLen,
            side: spec.side, jLabels: spec.jLabels, jFont: spec.jFont,
            bottomAxis: spec.bottomAxis, lines: spec.lines,
          },
        } as any,
      },
      plugins: [framePlugin],
    } as any);
    return () => chart.destroy();
  }, []);
  return (
    <canvas
      ref={ref}
      width={spec.width}
      height={spec.height}
      style={{ position: "absolute", left: spec.left, top: spec.top, width: spec.width, height: spec.height }}
    />
  );
}

const TOP_LEFT: PanelSpec = {
  key: "tl", left: 0, top: 61, width: 333, height: 136,
  padding: { left: 57, right: 4, top: 4, bottom: 4 },
  yMax: 15, yTicks: TOP_Y_TICKS, yMajor: TOP_Y_TICKS, yTickLen: 8,
  series: [{ base: 0, fit: TOP_A_FIT, obs: TOP_A_OBS }],
  lines: LINES_LEFT, side: "left",
  jLabels: [{ text: "(a)", value: 7.4 }], jFont: "17px 'DejaVu Serif'",
  bottomAxis: false,
};
const TOP_RIGHT: PanelSpec = {
  key: "tr", left: 325, top: 61, width: 323, height: 136,
  padding: { left: 4, right: 46, top: 4, bottom: 4 },
  yMax: 15, yTicks: TOP_Y_TICKS, yMajor: TOP_Y_TICKS, yTickLen: 8,
  series: [{ base: 0, fit: TOP_B_FIT, obs: TOP_B_OBS }],
  lines: LINES_RIGHT, side: "right",
  jLabels: [{ text: "(b)", value: 7.4 }], jFont: "17px 'DejaVu Serif'",
  bottomAxis: false,
};
const BOTTOM_LEFT: PanelSpec = {
  key: "bl", left: 0, top: 189, width: 333, height: 944,
  padding: { left: 57, right: 4, top: 4, bottom: 46 },
  yMax: 105, yTicks: BOTTOM_Y_TICKS, yMajor: BOTTOM_Y_MAJOR, yTickLen: 9,
  series: LEFT_FITS.map((f, i) => ({ base: 100 - 10 * i, fit: f, obs: LEFT_OBS[i] })),
  lines: LINES_LEFT, side: "left",
  jLabels: LEFT_J.map((t, i) => ({ text: t, value: 100 - 10 * i })), jFont: "17px 'DejaVu Sans'",
  bottomAxis: true,
};
const BOTTOM_RIGHT: PanelSpec = {
  key: "br", left: 325, top: 189, width: 323, height: 944,
  padding: { left: 4, right: 46, top: 4, bottom: 46 },
  yMax: 105, yTicks: BOTTOM_Y_TICKS, yMajor: BOTTOM_Y_MAJOR, yTickLen: 9,
  series: RIGHT_FITS.map((f, i) => ({ base: 100 - 10 * i, fit: f, obs: RIGHT_OBS[i] })),
  lines: LINES_RIGHT, side: "right",
  jLabels: RIGHT_J.map((t, i) => ({ text: t, value: 100 - 10 * i })), jFont: "17px 'DejaVu Sans'",
  bottomAxis: true,
};

const Sub = ({ children }: { children: any }) => (
  <span style={{ fontSize: "0.66em", position: "relative", top: "0.32em" }}>{children}</span>
);
const Sup = ({ children }: { children: any }) => (
  <span style={{ fontSize: "0.66em", position: "relative", top: "-0.6em" }}>{children}</span>
);
const Gk = ({ children }: { children: any }) => (
  <span style={{ fontFamily: "'DejaVu Serif'", fontStyle: "italic" }}>{children}</span>
);

function PanelTitle({ cx, end }: { cx: number; end: string }) {
  return (
    <div style={{
      position: "absolute", left: cx - 150, top: 40, width: 300, textAlign: "center",
      font: "18px 'Liberation Mono'", lineHeight: "20px", whiteSpace: "nowrap", color: "#000",
    }}>
      C<Sub>4</Sub>H<Sub>2</Sub>{"\u00a0\u00a0"}<Gk>ν</Gk><Sub>6</Sub>+<Gk>ν</Gk><Sub>8</Sub>(<Gk>σ</Gk><Sub>u</Sub><Sup>+</Sup>){end}<Sub>e</Sub>
    </div>
  );
}

export default function App() {
  return (
    <div style={{ position: "absolute", left: 0, top: 0, width: 648, height: 1133, background: "#fff", overflow: "hidden" }}>
      <PanelChart spec={TOP_LEFT} />
      <PanelChart spec={TOP_RIGHT} />
      <PanelChart spec={BOTTOM_LEFT} />
      <PanelChart spec={BOTTOM_RIGHT} />

      <div style={{
        position: "absolute", left: 179, top: 12, width: 300, textAlign: "center",
        font: "17px 'Liberation Mono'", lineHeight: "20px", color: "#000",
      }}>Lineas ajustadas</div>

      <PanelTitle cx={194} end="R" />
      <PanelTitle cx={466} end="P" />

      <div style={{ position: "absolute", left: 30, top: 38, font: "italic 16px 'DejaVu Serif'", color: "#000" }}>J</div>
      <div style={{ position: "absolute", left: 621, top: 38, font: "italic 16px 'DejaVu Serif'", color: "#000" }}>J</div>

      <div style={{
        position: "absolute", left: 262, top: 128, width: 137, height: 62, boxSizing: "border-box",
        border: "5px solid #0000ff", background: "#fff", zIndex: 2,
      }} />
      <div style={{
        position: "absolute", left: 262, top: 136, width: 137, textAlign: "center", zIndex: 3,
        font: "18px 'DejaVu Serif'", lineHeight: "20px", color: "#000",
      }}>C<Sub>2</Sub>H<Sub>2</Sub></div>
      <div style={{
        position: "absolute", left: 258, top: 161, width: 140, textAlign: "center", zIndex: 3,
        font: "18px 'DejaVu Serif'", lineHeight: "20px", color: "#000", whiteSpace: "nowrap",
      }}><i>ν</i><Sub>5</Sub>(<i>π</i><Sub>u</Sub>)R<Sub>e</Sub>(21)</div>
    </div>
  );
}
